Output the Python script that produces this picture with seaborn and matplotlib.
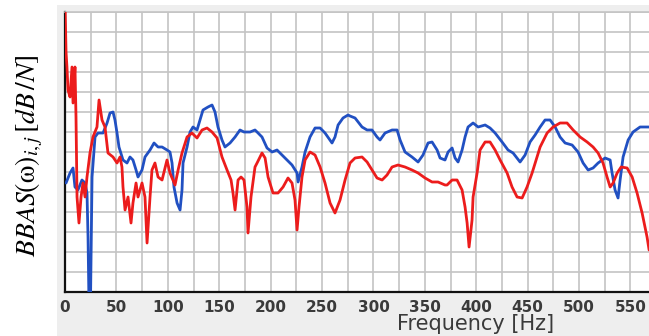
import matplotlib
matplotlib.use("Agg")
import matplotlib.pyplot as plt
from matplotlib.patches import Rectangle
from matplotlib.ticker import MultipleLocator, NullFormatter
import numpy as np
import pandas as pd
import seaborn as sns

# Frequency response curves, frequency in Hz and level in dB/N
blue_freq = [1, 4.9, 7.8, 9.7, 12.6, 16.5, 19.5, 21.4, 22.4, 23.3, 24.8, 26.3, 28.2, 29.2,
             32.1, 37, 40.9, 43.8, 46.7, 48.6, 50.6, 52.5, 56.4, 60.3, 63.2, 66.1, 69.1, 71,
             74.9, 77.8, 82.7, 86.6, 90.5, 94.4, 99.2, 102.1, 104.1, 106, 109, 111.9, 113.8,
             114.8, 118.7, 121.6, 124.5, 128.4, 131.3, 134.2, 139.1, 143, 145.9, 148.8, 152.7,
             155.6, 160.5, 165.4, 170.2, 174.1, 180, 184.8, 186.8, 191.6, 196.5, 201.4, 206.2,
             211.1, 216, 220.8, 225.7, 226.7, 230.5, 233.5, 238.3, 243.2, 248.1, 252.9, 259.7,
             262.6, 265.6, 270.4, 275.3, 277.2, 282.1, 288.9, 293.8, 298.6, 303.5, 306.4,
             311.3, 318.1, 323, 325.9, 330.7, 337.5, 343.4, 348.2, 353.1, 357, 361.9, 364.8,
             369.6, 372.6, 376.5, 379.4, 382.3, 386.2, 389.1, 392, 396.9, 401.8, 408.6, 413.4,
             418.3, 425.1, 430.9, 435.8, 442.6, 447.5, 452.3, 457.2, 462.1, 466.9, 471.8,
             476.7, 481.5, 486.4, 493.2, 499, 503.9, 508.8, 513.6, 518.5, 525.3, 530.2, 532.1,
             535, 537.9, 539.9, 542.8, 547.7, 552.5, 559.3, 568]
blue_db = [-45.5, -40.5, -38, -47.5, -49, -44, -45.5, -50.5, -72.5, -105, -105, -42.5, -29,
           -22.5, -20.5, -20.5, -15.5, -10.5, -10, -14, -20.5, -27.5, -34, -35.5, -32.5, -34,
           -39, -42.5, -39, -32.5, -29, -25.5, -27.5, -27.5, -29, -30, -35.5, -47.5, -55.5,
           -59, -49, -35.5, -27.5, -20, -17.5, -19, -14, -9, -7.5, -6.5, -10, -17.5, -24,
           -27.5, -25.5, -22.5, -19, -20, -20, -19, -20, -22.5, -28, -30, -29, -31.5, -34,
           -36.5, -40.5, -45, -37.5, -30, -22.5, -18, -18, -20.5, -25.5, -22.5, -16.5, -13,
           -11.5, -12, -13, -17.5, -19, -19, -22.5, -24, -20.5, -19, -19, -24, -30, -32.5,
           -35, -31.5, -25.5, -25, -29, -33, -34, -30, -28, -33, -35, -29, -22.5, -17.5,
           -15.5, -17.5, -16.5, -18, -20.5, -25, -29, -30.5, -35, -31.5, -25, -21.5, -17.5,
           -14, -14, -17.5, -22.5, -25.5, -26.5, -30, -35.5, -39, -38, -35.5, -33, -34,
           -40.5, -49, -53, -44, -32.5, -24, -20, -17.5, -17.5]

red_freq = [0, 1, 1.9, 2.9, 4.9, 6.8, 7.8, 9.7, 10.7, 11.7, 13.6, 15.6, 17.5, 19.5, 21.4,
            24.3, 27.2, 31.1, 33.1, 36, 38.9, 41.8, 46.7, 50.6, 53.5, 55.4, 56.4, 58.4, 61.3,
            64.2, 66.1, 69.1, 71, 74.9, 77.8, 79.8, 82.7, 84.6, 87.5, 90.5, 94.4, 99.2,
            102.1, 107, 110, 113.8, 118.7, 123.5, 128.4, 133.3, 138.1, 143, 147.9, 152.7,
            157.6, 161.5, 163.4, 165.4, 168.3, 171.2, 174.1, 177, 178, 180.9, 184.8, 186.8,
            191.6, 194.6, 197.5, 202.3, 207.2, 212.1, 216.9, 220.8, 223.7, 225.7, 227.6,
            230.5, 233.5, 238.3, 243.2, 248.1, 252.9, 257.8, 262.6, 267.5, 272.4, 277.2,
            282.1, 288.9, 293.8, 298.6, 303.5, 308.4, 313.2, 318.1, 323.9, 330.7, 337.5,
            343.4, 350.2, 357, 362.8, 369.6, 371.6, 376.5, 381.3, 386.2, 389.1, 391.1, 393,
            395.9, 396.9, 400.8, 403.7, 408.6, 413.4, 418.3, 423.2, 430, 434.8, 439.7, 444.6,
            449.4, 454.3, 459.1, 462.1, 468.9, 474.7, 481.5, 488.3, 494.2, 501, 507.8, 513.6,
            518.5, 523.3, 527.2, 530.2, 533.1, 537, 540.9, 546.7, 551.6, 556.4, 561.3, 566.1,
            568.1]
red_db = [45, 20, 12.5, 1, -2.5, 12.5, -5.5, 12.5, -12.5, -52.5, -65.5, -52.5, -45.5, -52.5,
          -42.5, -30.5, -22.5, -17.5, -4, -14, -17.5, -30.5, -32.5, -35.5, -32.5, -37.5,
          -47.5, -59, -52.5, -65.5, -55.5, -45.5, -52.5, -45.5, -52.5, -75.5, -52.5, -39,
          -35.5, -42.5, -44, -34, -40.5, -46.5, -39, -30.5, -22.5, -20.5, -23, -19, -18, -20,
          -23, -32.5, -39, -44, -50.5, -59, -44, -42.5, -44, -57.5, -70.5, -52.5, -37.5,
          -35.5, -30.5, -33, -42.5, -50.5, -50.5, -47.5, -43, -45.5, -54, -69, -57.5, -42.5,
          -34, -30, -31.5, -37.5, -45.5, -55.5, -60.5, -54, -44, -35.5, -33, -32.5, -35, -39,
          -43, -44, -41.5, -37.5, -36.5, -37.5, -39, -40.5, -43, -45, -45, -46.5, -46.5, -44,
          -44, -49, -57.5, -65.5, -77.5, -64, -52.5, -40.5, -29, -25, -25, -29, -34, -40.5,
          -47.5, -52.5, -53, -47.5, -40.5, -32.5, -27.5, -20.5, -17.5, -15.5, -15.5, -19,
          -22.5, -25, -27.5, -30.5, -35.5, -42.5, -47.5, -45.5, -40.5, -37.5, -38, -42.5,
          -50.5, -60.5, -72.5, -79]

x_ticks = [0, 50, 100, 150, 200, 250, 300, 350, 400, 450, 500, 550]
x_label = "Frequency [Hz]"
y_label = r"$BBAS(\mathrm{\omega})_{i,j}\,[dB\,/N]$"

sns.set_style("white")
plt.rcParams["mathtext.fontset"] = "stix"

W, H = 649, 336
fig = plt.figure(figsize=(W / 100, H / 100), dpi=100, facecolor="white")

# grey panel behind the plot and the tick labels
panel = Rectangle((57 / W, 0), 1 - 57 / W, (H - 5) / H, transform=fig.transFigure,
                  facecolor="#eeeeee", edgecolor="none", zorder=-10)
fig.patches.append(panel)

ax = fig.add_axes([65 / W, (H - 292) / H, (W - 65) / W, 280 / H])
ax.set_zorder(1)
ax.set_facecolor("white")

blue = pd.DataFrame({"f": blue_freq, "db": blue_db})
red = pd.DataFrame({"f": red_freq, "db": red_db})
sns.lineplot(data=blue, x="f", y="db", color="#2150c2", lw=2.0, ax=ax,
             estimator=None, sort=False, zorder=3)
sns.lineplot(data=red, x="f", y="db", color="#ec1c1c", lw=2.0, ax=ax,
             estimator=None, sort=False, zorder=4)

ax.set_xlim(0, 568)
ax.set_ylim(-100, 40)
ax.set_xticks(x_ticks)
ax.xaxis.set_minor_locator(MultipleLocator(25))
ax.yaxis.set_major_locator(MultipleLocator(20))
ax.yaxis.set_minor_locator(MultipleLocator(10))
ax.yaxis.set_major_formatter(NullFormatter())
ax.grid(True, which="both", color="#c4c4c4", lw=1.2)
ax.set_axisbelow(True)

for s in ("left", "bottom"):
    ax.spines[s].set_color("#111111")
    ax.spines[s].set_linewidth(1.6)
ax.spines["top"].set_color("#c4c4c4")
ax.spines["top"].set_linewidth(1.2)
ax.spines["right"].set_visible(False)

ax.tick_params(axis="x", which="major", direction="out", length=3.5, width=1.2,
               color="#111111", pad=2, labelsize=11, labelcolor="#3a3a3a")
ax.tick_params(axis="y", which="major", direction="out", length=4, width=1.2,
               color="#111111")
ax.tick_params(which="minor", length=0)
for lbl in ax.get_xticklabels():
    lbl.set_fontweight("bold")

ax.set_ylabel("")
ax.set_xlabel(x_label, fontsize=15, color="#3a3a3a")
ax.xaxis.set_label_coords((476 - 65) / (W - 65), -0.078)
ax.xaxis.label.set_va("top")

fig.text(29 / W, 1 - 156 / H, y_label, rotation=90, ha="center", va="center",
         fontsize=20, color="black")

fig.savefig("out.png", dpi=100, facecolor=fig.get_facecolor())
